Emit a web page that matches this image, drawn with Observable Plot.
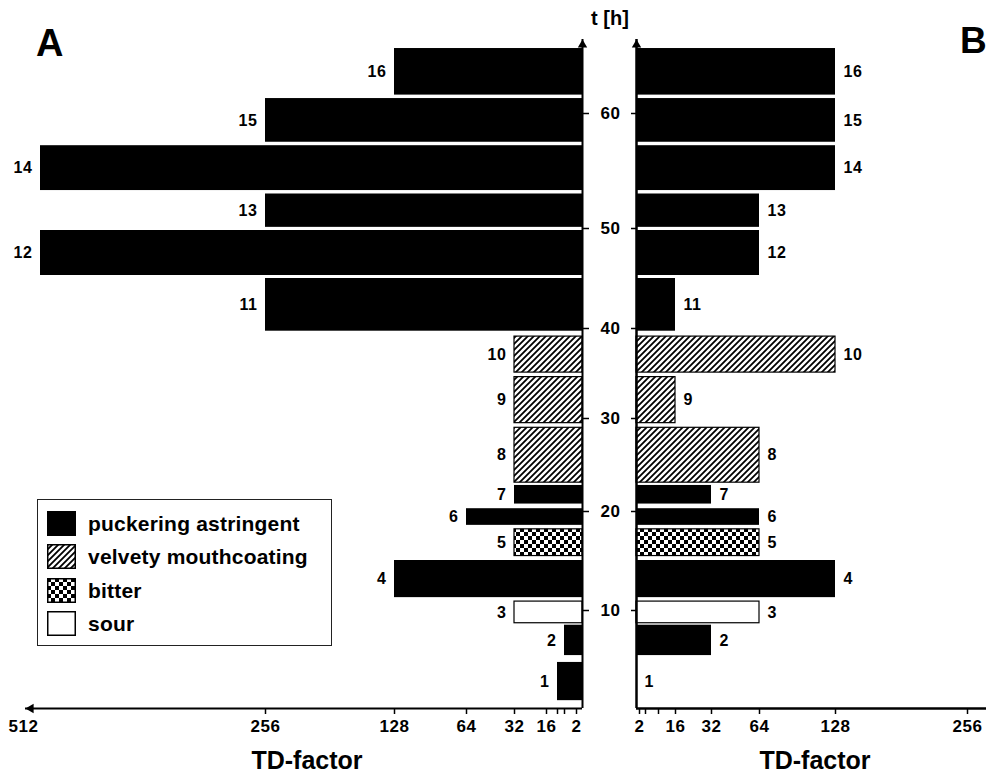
<!DOCTYPE html>
<html>
<head>
<meta charset="utf-8">
<script src="https://cdn.jsdelivr.net/npm/d3@7"></script>
<script src="https://cdn.jsdelivr.net/npm/@observablehq/plot@0.6"></script>
<style>
  body { margin: 0; background: #fff; color: #000; font-family: "Liberation Sans", Arial, Helvetica, sans-serif; font-weight: bold; }
  #wrap { position: relative; width: 986px; height: 775px; overflow: hidden; }
  .lab { position: absolute; white-space: nowrap; line-height: 1; }
  #legend { position: absolute; left: 37px; top: 499px; width: 295px; height: 147px; border: 1.5px solid #222; box-sizing: border-box; background: #fff; }
  #legend .row { position: absolute; left: 9px; height: 26px; display: flex; align-items: center; }
  #legend .row svg { display: block; margin-right: 12px; }
  #legend .row span { font-size: 21px; line-height: 1; letter-spacing: 0.2px; }
</style>
</head>
<body>
<div id="wrap">
  <svg width="0" height="0" style="position:absolute">
    <defs>
      <pattern id="hatch" patternUnits="userSpaceOnUse" width="6" height="6">
        <rect width="6" height="6" fill="white"/>
        <path d="M-1,1 L1,-1 M0,6 L6,0 M5,7 L7,5" stroke="black" stroke-width="1.8"/>
      </pattern>
      <pattern id="checker" patternUnits="userSpaceOnUse" width="8" height="8">
        <rect width="8" height="8" fill="white"/>
        <rect width="4" height="4" fill="black"/>
        <rect x="4" y="4" width="4" height="4" fill="black"/>
      </pattern>
    </defs>
  </svg>
</div>
<script>
// ---- data ----
const fractions = [1, 2, 3, 4, 5, 6, 7, 8, 9, 10, 11, 12, 13, 14, 15, 16];
const tStart = [0.8, 5.4, 8.7, 11.3, 15.5, 18.6, 20.8, 23.1, 29.5, 35.1, 39.7, 45.3, 50.1, 53.3, 57.5, 61.6];
const tEnd   = [4.7, 8.5, 10.9, 15.05, 18.2, 20.3, 22.8, 29.0, 34.6, 39.1, 45.0, 49.8, 53.0, 57.2, 61.3, 65.65];
const tdA = [8, 4, 32, 128, 32, 64, 32, 32, 32, 32, 256, 512, 256, 512, 256, 128];
const tdB = [1, 32, 64, 128, 64, 64, 32, 64, 16, 128, 16, 64, 64, 128, 128, 128];
const quality = ["puckering", "puckering", "sour", "puckering", "bitter", "puckering", "puckering",
  "velvety", "velvety", "velvety", "puckering", "puckering", "puckering", "puckering", "puckering", "puckering"];
const qualityNames = ["puckering astringent", "velvety mouthcoating", "bitter", "sour"];
const qualityKeys = ["puckering", "velvety", "bitter", "sour"];
const tdTicksA = [2, 4, 8, 16, 32, 64, 128, 256];
const tdLabelsA = [2, 16, 32, 64, 128, 256];
const tdEndLabelA = [512];
const tdTicksB = [2, 4, 8, 16, 32, 64, 128, 256];
const tdLabelsB = [2, 16, 32, 64, 128, 256];
const timeTicks = [10, 20, 30, 40, 50, 60];

// ---- build ----
const rows = fractions.map((f, i) => ({f, t0: tStart[i], t1: tEnd[i], a: tdA[i], b: tdB[i], q: quality[i]}));
const fills = {puckering: "black", velvety: "url(#hatch)", bitter: "url(#checker)", sour: "white"};
const FONT = "'Liberation Sans', Arial, Helvetica, sans-serif";
const style = {background: "transparent", fontFamily: FONT, fontWeight: "bold", fontSize: "17px", letterSpacing: "0.6px", color: "black", overflow: "visible"};
const yScale = {type: "linear", label: null, domain: [0, 10, 20, 30, 40, 50, 60, 70], range: [708, 610, 511, 418, 328, 228, 113, -2]};
const mid = d => (d.t0 + d.t1) / 2;

function bars(key) {
  return qualityKeys.map(q => Plot.rect(rows.filter(d => d.q === q && d[key] > 1), {
    x1: 1, x2: key, y1: "t0", y2: "t1", fill: fills[q],
    stroke: q === "puckering" ? "none" : "black", strokeWidth: 1.2
  }));
}

const left = Plot.plot({
  width: 986, height: 775, marginTop: 39, marginBottom: 67, marginLeft: 25, marginRight: 404,
  x: {type: "linear", label: null, domain: [1, 2, 4, 8, 16, 32, 64, 128, 256, 512], range: [582, 576, 564, 557, 546, 514, 466, 394, 265, 40]},
  y: yScale,
  style,
  marks: [
    ...bars("a"),
    Plot.text(rows, {x: "a", y: mid, text: d => String(d.f), textAnchor: "end", dx: -8, fontSize: 16}),
    Plot.ruleY([0], {strokeWidth: 2}),
    Plot.ruleX([1], {strokeWidth: 2}),
    Plot.axisX(tdTicksA, {anchor: "bottom", tickSize: 6, tickPadding: 5, strokeWidth: 1.5, fontSize: 17,
      tickFormat: d => tdLabelsA.includes(d) ? String(d) : ""}),
    Plot.text(tdEndLabelA, {x: d => d, text: d => String(d), frameAnchor: "bottom", lineAnchor: "top", dy: 11, dx: -17, fontSize: 17}),
    Plot.axisY(timeTicks, {anchor: "right", tickSize: 6, tickPadding: 12, strokeWidth: 1.5, fontSize: 17}),
    Plot.dot([0], {frameAnchor: "top-right", symbol: "triangle", r: 3.5, fill: "black", stroke: "none", dy: 5.4}),
    Plot.dot([0], {frameAnchor: "bottom-left", symbol: "triangle", r: 3.5, fill: "black", stroke: "none", dx: 5.4, rotate: -90})
  ]
});

const right = Plot.plot({
  width: 986, height: 775, marginTop: 39, marginBottom: 67, marginLeft: 636, marginRight: 0,
  x: {type: "linear", label: null, domain: [1, 2, 4, 8, 16, 32, 64, 128, 256], range: [636, 639, 645, 658, 675, 711, 759, 835, 967]},
  y: yScale,
  style,
  marks: [
    ...bars("b"),
    Plot.text(rows, {x: "b", y: mid, text: d => String(d.f), textAnchor: "start", dx: 8, fontSize: 16}),
    Plot.ruleY([0], {strokeWidth: 2.5}),
    Plot.ruleX([1], {strokeWidth: 2.5}),
    Plot.axisX(tdTicksB, {anchor: "bottom", tickSize: 6, tickPadding: 5, strokeWidth: 1.5, fontSize: 17,
      tickFormat: d => tdLabelsB.includes(d) ? String(d) : ""}),
    Plot.axisY(timeTicks, {anchor: "left", tickSize: 5, strokeWidth: 1.5, tickFormat: () => ""}),
    Plot.dot([0], {frameAnchor: "top-left", symbol: "triangle", r: 3.5, fill: "black", stroke: "none", dy: 5.4})
  ]
});

const wrap = document.getElementById("wrap");
for (const el of [left, right]) {
  el.style.position = "absolute";
  el.style.left = "0px";
  el.style.top = "0px";
  wrap.appendChild(el);
}

function addLabel(text, css) {
  const d = document.createElement("div");
  d.className = "lab";
  d.textContent = text;
  Object.assign(d.style, css);
  wrap.appendChild(d);
  return d;
}
addLabel("A", {left: "36px", top: "24px", fontSize: "38px"});
addLabel("B", {left: "960px", top: "22px", fontSize: "37px"});
addLabel("t [h]", {left: "610px", top: "8px", fontSize: "20px", transform: "translateX(-50%)"});
addLabel("TD-factor", {left: "307px", top: "748px", fontSize: "25px", transform: "translateX(-50%)"});
addLabel("TD-factor", {left: "815px", top: "748px", fontSize: "25px", transform: "translateX(-50%)"});

// legend
const legend = document.createElement("div");
legend.id = "legend";
qualityKeys.forEach((q, i) => {
  const row = document.createElement("div");
  row.className = "row";
  row.style.top = (10 + i * 33.5) + "px";
  row.innerHTML = `<svg width="29" height="25"><rect x="0.75" y="0.75" width="27.5" height="23.5" fill="${fills[q]}" stroke="black" stroke-width="1.5"/></svg><span>${qualityNames[i]}</span>`;
  legend.appendChild(row);
});
wrap.appendChild(legend);
</script>
</body>
</html>
